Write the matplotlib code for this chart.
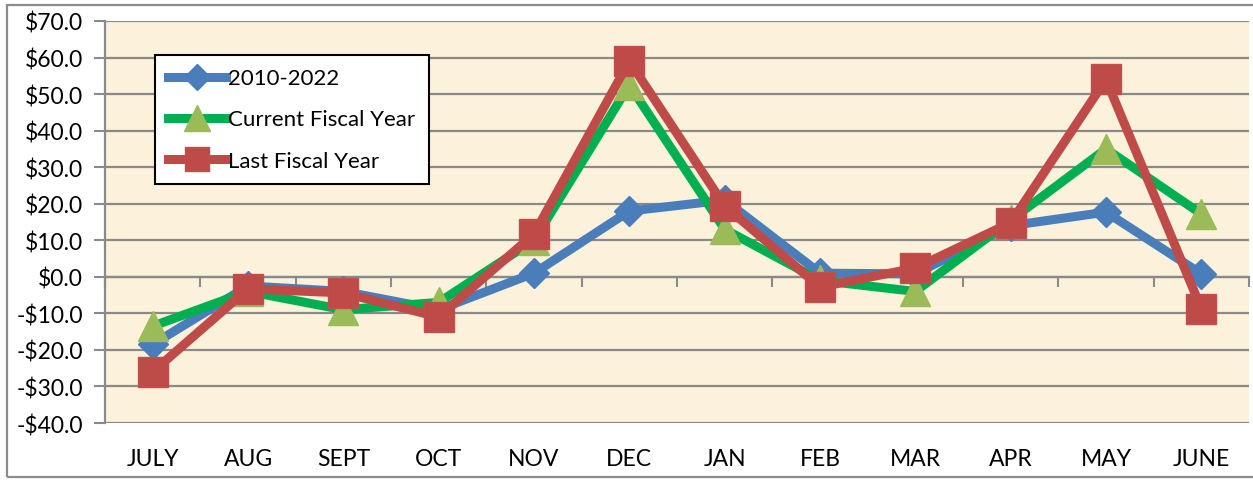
import matplotlib
matplotlib.use("Agg")
import matplotlib.pyplot as plt
import matplotlib.transforms as mtransforms
from matplotlib.patches import Rectangle

months = ["JULY", "AUG", "SEPT", "OCT", "NOV", "DEC", "JAN", "FEB", "MAR", "APR", "MAY", "JUNE"]
avg_2010_2022 = [-18.5, -2.5, -4.0, -9.0, 1.0, 18.0, 21.0, 1.0, 0.8, 14.0, 17.7, 0.8]
current_fy = [-13.5, -4.0, -9.0, -7.0, 10.0, 52.5, 13.0, -1.0, -4.0, 15.5, 35.0, 17.2]
last_fy = [-26.0, -3.3, -4.4, -11.0, 11.7, 59.0, 19.4, -2.8, 2.4, 14.8, 54.0, -8.7]
yticks = [-40, -30, -20, -10, 0, 10, 20, 30, 40, 50, 60, 70]

plt.rcParams['font.family'] = ['Lato', 'DejaVu Sans']

W, H = 1253, 481
fig = plt.figure(figsize=(W / 100, H / 100), dpi=100)
fig.patch.set_facecolor('white')

# outer chart frame
fig.add_artist(Rectangle((7 / W, 1 - 478 / H), (1262 - 7) / W, (478 - 6) / H,
                         transform=fig.transFigure, fill=False,
                         edgecolor='#8c8c8c', linewidth=1.6))

left, right, top, bottom = 105, 1249, 22, 424
ax = fig.add_axes([left / W, 1 - bottom / H, (right - left) / W, (bottom - top) / H])
ax.set_facecolor('#FCF1DA')

x = list(range(len(months)))
ax.plot(x, avg_2010_2022, color='#4A7EBB', lw=6.5, marker='D', ms=15,
        mfc='#4A7EBB', mec='#4A7EBB', label='2010-2022', zorder=3)
ax.plot(x, current_fy, color='#00B050', lw=6.5, marker='^', ms=22,
        mfc='#9BBB59', mec='#9BBB59', label='Current Fiscal Year', zorder=4)
ax.plot(x, last_fy, color='#BE4B48', lw=6.5, marker='s', ms=21,
        mfc='#BE4B48', mec='#C0504D', label='Last Fiscal Year', zorder=5)

ax.set_xlim(-0.5, len(months) - 0.5)
ax.set_ylim(-40, 70)
ax.set_yticks(yticks)
ax.set_yticklabels([("-$%.1f" % abs(v)) if v < 0 else ("$%.1f" % v) for v in yticks],
                   fontsize=16.5)
ax.yaxis.grid(True, color='#8a8a8a', lw=1.6, zorder=1)
ax.set_axisbelow(True)
ax.tick_params(axis='y', length=8, width=1.5, color='#8a8a8a', pad=8)

# x axis crossing at zero with ticks at category boundaries
ax.spines['bottom'].set_position(('data', 0))
ax.spines['bottom'].set_color('#8a8a8a')
ax.spines['bottom'].set_linewidth(1.6)
ax.set_xticks([i - 0.5 for i in range(len(months) + 1)])
ax.set_xticklabels([])
ax.tick_params(axis='x', length=7, width=1.5, color='#8a8a8a', direction='out')

ax.spines['left'].set_color('#8a8a8a')
ax.spines['left'].set_linewidth(1.6)
ax.spines['top'].set_visible(False)
ax.spines['right'].set_visible(False)

# bottom border line of plot area
ax.axhline(-40, color='#8a8a8a', lw=2, zorder=1)

trans = mtransforms.blended_transform_factory(ax.transData, ax.transAxes)
for i, m in enumerate(months):
    ax.text(i, -36 / (bottom - top), m, transform=trans, ha='center', va='center',
            fontsize=16.5)

leg = ax.legend(loc='upper left', bbox_to_anchor=((155 - left) / (right - left), 1 - (56 - top) / (bottom - top)),
                fontsize=16, frameon=True, fancybox=False, edgecolor='black',
                handlelength=2.6, handletextpad=0.1, labelspacing=0.95,
                borderpad=0.6, borderaxespad=0, markerscale=0.85)
leg.get_frame().set_linewidth(1.5)
leg.get_frame().set_facecolor('white')
leg.get_frame().set_alpha(1)

fig.savefig('out.png', dpi=100)
